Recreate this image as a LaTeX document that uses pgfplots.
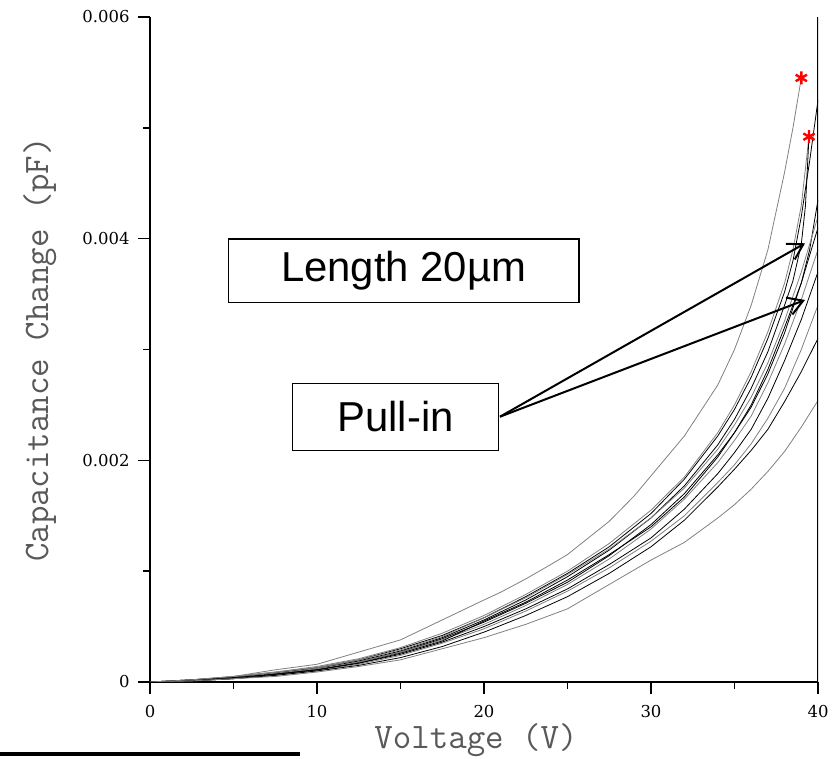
\documentclass[border=0pt]{standalone}
\usepackage{pgfplots}
\pgfplotsset{compat=1.18}
\usepackage{fontspec}
\newfontfamily\arialfont{Liberation Sans}
\newfontfamily\tickserif{DejaVu Serif}
\usetikzlibrary{arrows.meta}
\newcommand\tickfont{\fontsize{16.5}{16.5}\selectfont\tickserif}
\newcommand\labfont{\fontsize{36}{36}\selectfont\ttfamily}
\newcommand\boxfont{\fontsize{42}{42}\selectfont\arialfont}
\begin{document}
\begin{tikzpicture}
\useasboundingbox (0,0) rectangle (834bp,759bp);
\begin{axis}[
  at={(150bp,77bp)}, anchor=south west,
  scale only axis, width=668bp, height=665bp,
  xmin=0, xmax=40, ymin=0, ymax=0.006,
  axis x line*=bottom, axis y line*=left,
  axis line style={-, line width=2.5bp},
  scaled y ticks=false, scaled x ticks=false,
  xtick={0,10,20,30,40}, xticklabels={0,10,20,30,40},
  minor xtick={5,15,25,35},
  ytick={0,0.002,0.004,0.006}, yticklabels={0,0.002,0.004,0.006},
  minor ytick={0.001,0.003,0.005},
  tick align=outside,
  major tick length=12bp, minor tick length=7bp,
  every tick/.style={line width=1.5bp, black},
  /pgf/number format/assume math mode=true,
  ticklabel style={font=\tickfont},
  xticklabel style={yshift=-8bp},
  yticklabel style={xshift=-5bp},
  xlabel={Voltage (V)}, ylabel={Capacitance Change (pF)},
  xlabel style={at={(axis description cs:0.488,-0.087)}, anchor=center},
  ylabel style={at={(axis description cs:-0.165,0.5)}, anchor=center},
  label style={font=\labfont, text=black!65},
]
% A (gray, ends at star)
\addplot[gray, line width=0.8bp] coordinates {(0,0) (2.5,0.00002) (5,0.00005) (7.5,0.00011) (10,0.00016) (12.5,0.00027) (15,0.00038) (17.5,0.00056) (20,0.00074) (21,0.00081) (22.5,0.00093) (24,0.00106) (25,0.00115) (26,0.00127) (27.5,0.00145) (29,0.00168) (30,0.00186) (32,0.00222) (34,0.00268) (35,0.003) (36,0.0034) (37,0.0039) (38,0.0046) (38.5,0.005) (39,0.00545)};
% B (black)
\addplot[black, line width=0.8bp] coordinates {(0,0) (2.5,0.00001) (5,0.00004) (7.5,0.00008) (10,0.00013) (12.5,0.0002) (15,0.0003) (17.5,0.00042) (20,0.00058) (22.5,0.00077) (25,0.00098) (27.5,0.00122) (30,0.00152) (32,0.00183) (34,0.00222) (35,0.00246) (36,0.00275) (37,0.0031) (38,0.00352) (38.5,0.0038) (39,0.0042) (39.5,0.0047) (40,0.00525)};
% C (gray, to star)
\addplot[gray, line width=0.8bp] coordinates {(0,0) (2.5,0.00002) (5,0.00005) (7.5,0.00009) (10,0.00014) (12.5,0.00021) (15,0.00031) (17.5,0.00044) (20,0.0006) (22.5,0.00079) (25,0.001) (27.5,0.00125) (30,0.00155) (32,0.00185) (34,0.00225) (35,0.0025) (36,0.0028) (37,0.00316) (38,0.0036) (38.5,0.0039) (39,0.0043) (39.46,0.00492)};
% D (black, to star)
\addplot[black, line width=0.8bp] coordinates {(0,0) (2.5,0.00001) (5,0.00004) (7.5,0.00008) (10,0.00012) (12.5,0.00019) (15,0.00028) (17.5,0.0004) (20,0.00056) (22.5,0.00074) (25,0.00095) (27.5,0.00119) (30,0.00148) (32,0.00177) (34,0.00214) (35,0.00237) (36,0.00265) (37,0.00298) (38,0.0034) (38.5,0.00362) (39,0.00395) (39.25,0.0043) (39.46,0.00492)};
% E
\addplot[black, line width=0.8bp] coordinates {(0,0) (2.5,0.00001) (5,0.00004) (7.5,0.00007) (10,0.00011) (12.5,0.00018) (15,0.00027) (17.5,0.00039) (20,0.00054) (22.5,0.00071) (25,0.0009) (27.5,0.00114) (30,0.00142) (32,0.0017) (34,0.00205) (35,0.00225) (36,0.00248) (37,0.00278) (38,0.00315) (39,0.0036) (39.5,0.0039) (40,0.00435)};
% F
\addplot[gray, line width=0.8bp] coordinates {(0,0) (2.5,0.00002) (5,0.00004) (7.5,0.00008) (10,0.00012) (12.5,0.00018) (15,0.00027) (17.5,0.00038) (20,0.00052) (22.5,0.00069) (25,0.00088) (27.5,0.00111) (30,0.00138) (32,0.00165) (34,0.00198) (35,0.00218) (36,0.0024) (37,0.0027) (38,0.00305) (39,0.00345) (40,0.0039)};
% G
\addplot[black, line width=0.8bp] coordinates {(0,0) (2.5,0.00001) (5,0.00003) (7.5,0.00007) (10,0.00011) (12.5,0.00017) (15,0.00025) (17.5,0.00036) (20,0.0005) (22.5,0.00066) (25,0.00084) (27.5,0.00106) (30,0.0013) (32,0.00156) (34,0.00188) (35,0.00207) (36,0.00228) (37,0.00256) (38,0.0029) (39,0.00327) (40,0.0037)};
% H
\addplot[gray, line width=0.8bp] coordinates {(0,0) (2.5,0.00001) (5,0.00003) (7.5,0.00006) (10,0.0001) (12.5,0.00016) (15,0.00024) (17.5,0.00035) (20,0.00048) (22.5,0.00064) (25,0.00082) (27.5,0.00103) (30,0.00127) (32,0.0015) (34,0.0018) (35,0.00196) (36,0.00215) (37,0.00238) (38,0.00265) (39,0.003) (40,0.0034)};
% I
\addplot[black, line width=0.8bp] coordinates {(0,0) (2.5,0.00001) (5,0.00003) (7.5,0.00006) (10,0.0001) (12.5,0.00015) (15,0.00022) (17.5,0.00032) (20,0.00045) (22.5,0.0006) (25,0.00077) (27.5,0.00098) (30,0.00122) (32,0.00146) (34,0.00176) (35,0.00192) (36,0.00209) (37,0.00228) (38,0.00253) (39,0.0028) (40,0.0031)};
% J
\addplot[gray, line width=0.8bp] coordinates {(0,0) (2.5,0.00001) (5,0.00003) (7.5,0.00005) (10,0.00009) (12.5,0.00014) (15,0.0002) (17.5,0.0003) (20,0.0004) (22.5,0.00052) (25,0.00066) (27.5,0.00088) (30,0.0011) (32,0.00126) (34,0.00148) (35,0.0016) (36,0.00174) (37,0.0019) (38,0.00208) (39,0.0023) (40,0.00254)};
% K
\addplot[black, line width=0.8bp] coordinates {(0,0) (2.5,0.00002) (5,0.00004) (7.5,0.00007) (10,0.00011) (12.5,0.00017) (15,0.00026) (17.5,0.00037) (20,0.00055) (22.5,0.00072) (25,0.00092) (27.5,0.00115) (30,0.0014) (32,0.00167) (34,0.00203) (35,0.00225) (36,0.0025) (37,0.00282) (38,0.0032) (39,0.0036) (40,0.0041)};
% L
\addplot[gray, line width=0.8bp] coordinates {(0,0) (2.5,0.00002) (5,0.00005) (7.5,0.00009) (10,0.00013) (12.5,0.0002) (15,0.00029) (17.5,0.00041) (20,0.00058) (22.5,0.00076) (25,0.00097) (27.5,0.0012) (30,0.00148) (32,0.00175) (34,0.0021) (35,0.00232) (36,0.00257) (37,0.00288) (38,0.00326) (39,0.0037) (40,0.0042)};
% pull-in markers
\addplot[only marks, mark=asterisk, red, mark size=6.5bp, line width=2.4bp] coordinates {(39.0,0.00545) (39.46,0.00492)};
\draw[line width=2.5bp] (rel axis cs:1,0) -- (rel axis cs:1,1);
\end{axis}
\draw[line width=1.2bp] (228.3bp,456.3bp) rectangle (579bp,520bp);
\node[font=\boxfont] at (403.7bp,488.2bp) {Length 20µm};
\draw[line width=1.2bp] (292.7bp,308.3bp) rectangle (498.3bp,375.7bp);
\node[font=\boxfont] at (395.5bp,342bp) {Pull-in};
\draw[line width=2bp, -{Straight Barb[length=15bp,width=18bp]}] (500bp,342.3bp) -- (805bp,515.7bp);
\draw[line width=2bp, -{Straight Barb[length=15bp,width=18bp]}] (500bp,342.3bp) -- (805bp,459bp);
\draw[line width=3.5bp] (0,5bp) -- (300bp,5bp);
\end{tikzpicture}
\end{document}
